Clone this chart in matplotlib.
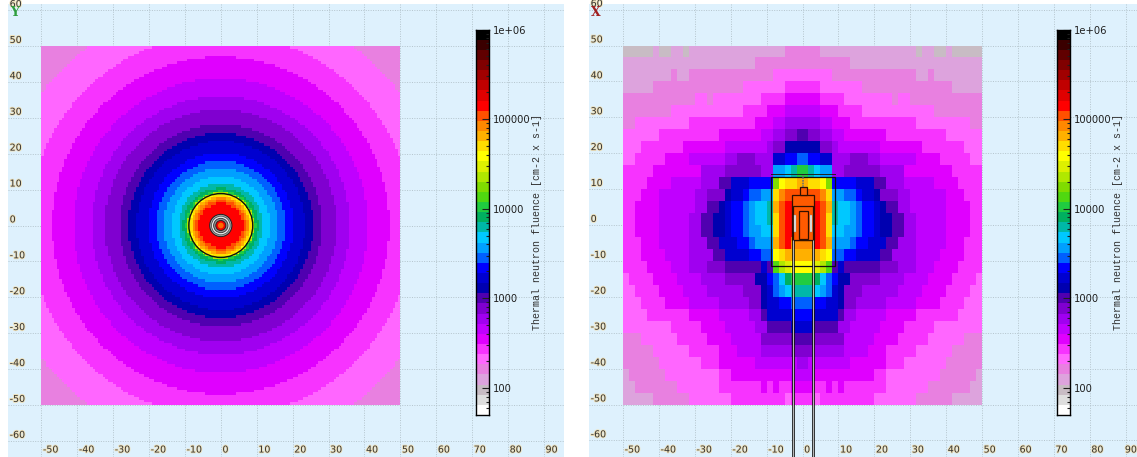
import numpy as np
import matplotlib
matplotlib.use("Agg")
import matplotlib.pyplot as plt
import matplotlib.patheffects as pe
from matplotlib.colors import ListedColormap, BoundaryNorm
from matplotlib.patches import Circle, Rectangle
from matplotlib.ticker import FixedLocator, NullFormatter

W, H = 1137, 457
PX = 3.59  # pixels per data unit

# colour bands from the scale, white (lowest) to black (highest)
band_colors = ["#FFFFFF", "#DEDEDE", "#C8BCC4", "#DDA3DD", "#E880E0", "#FF66FF", "#F733FF",
               "#E000FF", "#C000FF", "#A000F0", "#8000D0", "#5000B0", "#0000B0", "#0000D0",
               "#0000FF", "#0060FF", "#00A0FF", "#00C8FF", "#00B8A8", "#00B060", "#20CC40",
               "#50D810", "#80DC00", "#B0E800", "#DDF000", "#FFFF00", "#FFDD00", "#FFB000",
               "#FF8800", "#FF5000", "#FF0000", "#E00000", "#C00000", "#A00000", "#800000",
               "#600000", "#3A0000", "#000000"]
scale_min, scale_max = 50, 1e6
scale_ticks = [100, 1000, 10000, 100000, 1000000]
scale_labels = ["100", "1000", "10000", "100000", "1e+06"]
scale_title = "Thermal neutron fluence [cm-2 x s-1]"

x_ticks = list(range(-50, 100, 10))
y_ticks = list(range(-60, 70, 10))

# Y view: outer radius of each band and its band number
ring_radius = [6.2, 7.0, 7.6, 8.1, 8.5, 8.9, 9.2, 9.7, 10.5, 11.7, 13.7, 15.9, 18.0, 20.3,
               23.5, 25.7, 28.1, 32.3, 36.0, 41.0, 47.0, 53.3, 62.0, 75.0]
ring_level = [30, 29, 28, 27, 26, 25, 23, 20, 19, 18, 17, 16, 15, 14,
              13, 12, 11, 10, 9, 8, 7, 6, 5, 4]

# X view: band numbers (base 36) for the left half of each row, top row first
x_view_rows = [
    "22222 3 22 33 2 3333333333333333 444",
    "3333333333333333333333 44444444",
    "33333333 4 33 44444444444444 55555",
    "33333 444444444444444 5555555 666",
    "444444444444 55 4 55555555 6666 777",
    "44444444 555555555555 6666 777 888",
    "44 555555555 66666666666 777 88 999",
    "555555 6666666666 7777777 88 99 AA B",
    "555 6666666 7777777 8888888 9 AA CCC",
    "55 66666 7777 888888 99 AAA 999 DD EE F",
    "66666 77777777 9999 AAAAAA 99 GG H I K",
    "6666 7777 88888 999 BB DDD EEEE M P QQ R",
    "666 777 888888 99 AAA C DD E FF GG Q S T T T",
    "66 7777 888888 99 BB C D EE F G HH I R T U U U",
    "66 7777 88888 99 BB CC D EE F G HH I Q T U U U",
    "66 7777 88888 99 BB CC D EE F GG HH Q T U U U",
    "666 777 88888 999 BB DDD EE F GGG R T U S S",
    "666 7777 8888 9999 BB DDDD EE FF P Q RRR",
    "6666 7777 888 999 AAA BBBBBB D B L N O P P",
    "5 6666 7777 8888 9999 AAAAA CC E F H J KK",
    "55 6666 7777 8888 999999 AAA C D F G H II",
    "555 6666 7777 88888 99999 AA C DD EE FF",
    "5555 6666666 77777 88888 99 B DDDD EE",
    "55555555 66666 7777 88888 99 BBBB DD",
    "444 555555 66666 7777 88888 AAAAA BB",
    "44444 555555 66666 777 8888 99999 AA",
    "444444 5555555 666 777777 8888888 9",
    "3 444444 555555555 66 7777777777 88",
    "33 4444444 5555555 6666666 7 6 7 66 77",
    "33333 444444 5555555 666666666 5 66",
]

# apparatus outlines in the X view, data units
ring_box = (-8.8, -11.4, 17.9, 24.8)
outer_box = (-3.0, -4.2, 6.2, 12.6)
neck_box = (-0.8, 8.4, 2.0, 2.3)
inner_box = (-2.6, -4.2, 5.4, 9.5)
core_box = (-1.1, -4.0, 2.5, 7.9)
strip_boxes = [(-2.4, -1.9, 0.5, 4.7), (2.1, -1.9, 0.5, 4.7)]
tube_x = [-2.7, 3.0]
tube_y = [-4.2, -75]
chain_x = [0.15, 0.15]
chain_y = [10.7, 13.9]

BG = "#DEF1FD"
GRID = "#B4C4CC"
plt.rcParams["font.family"] = "DejaVu Sans"

fig = plt.figure(figsize=(W / 100, H / 100), dpi=100, facecolor="white")
cmap = ListedColormap(band_colors)
norm = BoundaryNorm(np.arange(len(band_colors) + 1) - 0.5, cmap.N)
edges = np.linspace(-50, 50, 141)


def add_px_axes(x0, x1, y0, y1):
    return fig.add_axes([x0 / W, 1 - y1 / H, (x1 - x0) / W, (y1 - y0) / H])


def panel(px_left, px_right, cx, cy, letter, letter_color, bar_left, title_x):
    ax = add_px_axes(px_left, px_right, 4, H)
    ax.set_xlim((px_left - cx) / PX, (px_right - cx) / PX)
    ax.set_ylim((cy - H) / PX, (cy - 4) / PX)
    ax.set_facecolor(BG)
    for s in ax.spines.values():
        s.set_visible(False)
    ax.tick_params(left=False, bottom=False, labelleft=False, labelbottom=False)
    ax.set_xticks(x_ticks)
    ax.set_yticks(y_ticks)
    ax.grid(True, color=GRID, lw=0.7, ls=(0, (1, 1.5)))
    ax.set_axisbelow(True)
    halo = [pe.withStroke(linewidth=1.3, foreground="#EFE2BC")]
    ymin = ax.get_ylim()[0]
    xmin = ax.get_xlim()[0]
    for v in x_ticks:
        off = -0.5 if (v == x_ticks[-1] and px_right == W) else 1.2
        ax.annotate(str(v), (v, ymin), xytext=(off, 1.8), textcoords="offset points", ha="left",
                    va="bottom", fontsize=6.8, color="#303030", path_effects=halo, zorder=6,
                    annotation_clip=False)
    for v in y_ticks:
        t = ax.annotate(str(v), (xmin, v), xytext=(1.2, 0.8), textcoords="offset points", ha="left",
                        va="bottom", fontsize=6.8, color="#303030", path_effects=halo, zorder=6)
        t.set_clip_on(True)
    ax.annotate(letter, (xmin, y_ticks[-1]), xytext=(1.5, -6.5), textcoords="offset points", ha="left",
                va="bottom", fontsize=9, color=letter_color, family="DejaVu Serif",
                fontweight="bold", zorder=7)
    # colour scale
    cax = add_px_axes(bar_left, bar_left + 13.5, 29.5, 415)
    lev = np.linspace(np.log10(scale_min), np.log10(scale_max), len(band_colors) + 1)
    cax.pcolormesh([0, 1], 10 ** lev, np.arange(len(band_colors))[:, None], cmap=cmap, norm=norm)
    cax.set_yscale("log")
    cax.set_ylim(scale_min, scale_max)
    cax.set_xticks([])
    cax.yaxis.tick_right()
    cax.yaxis.set_major_locator(FixedLocator(scale_ticks))
    cax.set_yticklabels(scale_labels, fontsize=7.2, color="#202020")
    cax.yaxis.set_minor_locator(FixedLocator([m * 10 ** e for e in range(1, 6) for m in range(2, 10)
                                              if scale_min < m * 10 ** e < scale_max]))
    cax.yaxis.set_minor_formatter(NullFormatter())
    cax.tick_params(axis="y", which="major", direction="in", length=5, width=0.8, pad=3, color="#202020")
    cax.tick_params(axis="y", which="minor", direction="in", length=2, width=0.8, color="#202020")
    for s in cax.spines.values():
        s.set_linewidth(1.0)
    fig.text(title_x / W, 1 - 221.5 / H, scale_title, rotation=90, ha="center", va="center",
             fontsize=7.2, family="Liberation Mono", color="#303030")
    return ax


# ---- Y view
ax1 = panel(8, 564, 220.8, 225.5, "Y", "#2E9E3E", 475.5, 537)
cx_grid = 0.5 * (edges[:-1] + edges[1:])
XX, YY = np.meshgrid(cx_grid, cx_grid)
field_y = np.array(ring_level)[np.digitize(np.hypot(XX, YY), ring_radius)]
ax1.pcolormesh(edges, edges, field_y, cmap=cmap, norm=norm, zorder=2, antialiased=False)
ax1.add_patch(Circle((0, 0), 8.9, fill=False, ec="#101010", lw=1.0, zorder=3))
ax1.add_patch(Circle((0, 0), 3.1, fc="#A8A8A8", ec="#202020", lw=0.7, zorder=3))
ax1.add_patch(Circle((0, 0), 2.6, fc="#E8E8E8", ec="#505050", lw=0.6, zorder=3))
ax1.add_patch(Circle((0, 0), 2.0, fc="#909090", ec="#303030", lw=0.6, zorder=3))
ax1.add_patch(Circle((0, 0), 1.4, fc="#F00000", ec="#202020", lw=0.6, zorder=3))
ax1.add_patch(Circle((0, 0), 0.8, fc="#FF6A00", ec="none", zorder=3))

# ---- X view
ax2 = panel(589, 1137, 802.5, 225.0, "X", "#A02020", 1056.7, 1118)
half = np.array([[int(c, 36) for c in r.replace(" ", "").ljust(30, r[-1])[:30]] for r in x_view_rows])
field_x = np.hstack([half, half[:, ::-1]])
xe = np.linspace(-50, 50, 61)
ye = np.linspace(50, -50, 31)
ax2.pcolormesh(xe, ye, field_x, cmap=cmap, norm=norm, zorder=2, antialiased=False)

x0, y0, w, h = ring_box
ax2.add_patch(Rectangle((x0, y0), w, h, fill=False, ec="#101010", lw=0.9, zorder=3))
ax2.plot([x0, x0 + w], [y0 + h + 0.8, y0 + h + 0.8], color="#202020", lw=0.7, zorder=3)
for box, fc in [(outer_box, "#FF5A00"), (neck_box, "#FF5A00"), (inner_box, "#FF5A00"), (core_box, "#FF5A00")]:
    ax2.add_patch(Rectangle(box[:2], box[2], box[3], fc=fc, ec="#301000", lw=0.9, zorder=4))
for box in strip_boxes:
    ax2.add_patch(Rectangle(box[:2], box[2], box[3], fc="#F0F0F0", ec="#808080", lw=0.3, zorder=5))
ax2.plot(chain_x, chain_y, color="#707070", lw=1.2, ls=(0, (1, 0.6)), zorder=4)
for xt in tube_x:
    ax2.plot([xt, xt], tube_y, color="#101010", lw=1.9, zorder=5, solid_capstyle="butt")
    ax2.plot([xt, xt], tube_y, color="#D8D8D8", lw=0.6, zorder=5, solid_capstyle="butt")

fig.savefig("out.png", dpi=100, facecolor="white")
